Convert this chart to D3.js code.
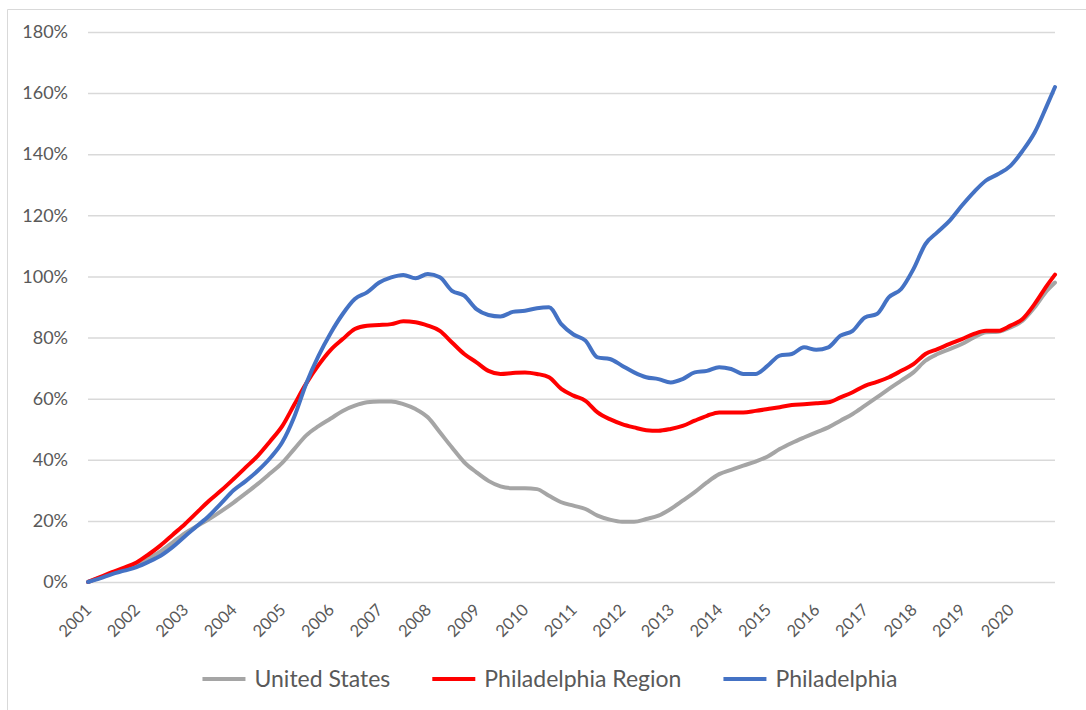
<!DOCTYPE html>
<html>
<head>
<meta charset="utf-8">
<script src="https://cdn.jsdelivr.net/npm/d3@7"></script>
<style>
    body { margin: 0; background: #fff; }
    .viz text { font-family: Lato, "Open Sans", sans-serif; fill: #595959; }
</style>
</head>
<body>
<div class="viz"></div>
<script>
// quarterly readings (cumulative % change since Jan 2001)
var dates = [
    "2001-01","2001-04","2001-07","2001-10","2002-01","2002-04","2002-07","2002-10",
    "2003-01","2003-04","2003-07","2003-10","2004-01","2004-04","2004-07","2004-10",
    "2005-01","2005-04","2005-07","2005-10","2006-01","2006-04","2006-07","2006-10",
    "2007-01","2007-04","2007-07","2007-10","2008-01","2008-04","2008-07","2008-10",
    "2009-01","2009-04","2009-07","2009-10","2010-01","2010-04","2010-07","2010-10",
    "2011-01","2011-04","2011-07","2011-10","2012-01","2012-04","2012-07","2012-10",
    "2013-01","2013-04","2013-07","2013-10","2014-01","2014-04","2014-07","2014-10",
    "2015-01","2015-04","2015-07","2015-10","2016-01","2016-04","2016-07","2016-10",
    "2017-01","2017-04","2017-07","2017-10","2018-01","2018-04","2018-07","2018-10",
    "2019-01","2019-04","2019-07","2019-10","2020-01","2020-04","2020-07","2020-10",
    "2020-12"
];

var unitedStates = [
    0, 1.4, 2.9, 4.2, 5.5, 7.7, 10.0, 13.0,
    16.0, 18.3, 20.6, 23.2, 26.0, 29.0, 32.1, 35.5,
    39.0, 43.5, 48.0, 51.0, 53.5, 56.0, 57.7, 58.8,
    59.1, 59.1, 58.2, 56.6, 53.9, 49.0, 44.0, 39.2,
    35.9, 33.1, 31.3, 30.7, 30.7, 30.4, 28.2, 26.1,
    25.0, 23.9, 21.7, 20.4, 19.7, 19.7, 20.6, 21.7,
    23.9, 26.6, 29.4, 32.6, 35.3, 36.7, 38.1, 39.4,
    41.1, 43.5, 45.5, 47.3, 49.0, 50.6, 52.8, 55.0,
    57.7, 60.4, 63.2, 65.9, 68.6, 72.4, 74.6, 76.2,
    77.9, 80.0, 81.7, 81.9, 83.3, 85.5, 89.9, 95.3,
    98.0
];

var phillyRegion = [
    0, 1.6, 3.2, 4.7, 6.4, 9.0, 12.0, 15.5,
    19.0, 22.8, 26.6, 30.0, 33.7, 37.5, 41.3, 46.0,
    51.0, 58.0, 65.0, 71.0, 76.0, 79.5, 82.8, 83.9,
    84.1, 84.4, 85.3, 85.0, 83.9, 82.2, 78.4, 74.6,
    71.9, 69.1, 68.1, 68.4, 68.6, 68.1, 67.0, 63.2,
    61.0, 59.3, 55.5, 53.3, 51.7, 50.6, 49.7, 49.5,
    50.1, 51.1, 52.8, 54.4, 55.5, 55.5, 55.5, 56.0,
    56.6, 57.2, 57.9, 58.2, 58.5, 58.8, 60.4, 62.1,
    64.2, 65.5, 67.0, 69.1, 71.3, 74.6, 76.2, 77.9,
    79.5, 81.2, 82.2, 82.2, 83.9, 86.1, 91.0, 97.0,
    100.6
];

var philadelphia = [
    0, 1.2, 2.6, 3.7, 4.9, 6.6, 8.6, 11.5,
    15.0, 18.3, 21.7, 25.8, 30.0, 33.0, 36.4, 40.5,
    45.7, 54.0, 65.0, 74.0, 81.5, 87.7, 92.6, 94.8,
    98.0, 99.7, 100.5, 99.4, 100.8, 99.7, 95.3, 93.7,
    89.3, 87.4, 86.9, 88.4, 88.8, 89.6, 89.9, 84.4,
    81.0, 79.0, 73.5, 73.0, 70.8, 68.6, 67.0, 66.4,
    65.3, 66.4, 68.6, 69.1, 70.3, 69.7, 68.1, 68.1,
    70.8, 74.1, 74.6, 76.8, 76.0, 76.8, 80.6, 82.2,
    86.6, 87.7, 93.2, 95.9, 102.4, 110.6, 114.5, 118.3,
    123.2, 127.6, 131.4, 133.5, 136.2, 141.1, 147.1, 155.9,
    162.0
];

var yTicks = [0, 20, 40, 60, 80, 100, 120, 140, 160, 180];

var seriesNames = ["United States", "Philadelphia Region", "Philadelphia"];
var seriesColors = ["#a5a5a5", "#ff0000", "#4472c4"];
var seriesValues = [unitedStates, phillyRegion, philadelphia];

var fullWidth = 1086,
    fullHeight = 710,
    margin = { top: 32, right: 31, bottom: 128, left: 88 },
    width = fullWidth - margin.left - margin.right,
    height = fullHeight - margin.top - margin.bottom;

var parseDate = d3.timeParse("%Y-%m");

var svg = d3.select('.viz').append('svg')
    .attr('width', fullWidth)
    .attr('height', fullHeight);

// chart frame (only left and top edges are inside the crop)
svg.append('path')
    .attr('d', 'M7.5,' + fullHeight + 'V9.5H' + fullWidth)
    .attr('fill', 'none')
    .attr('stroke', '#d9d9d9')
    .attr('stroke-width', 1);

var x = d3.scaleTime()
    .domain([parseDate(dates[0]), parseDate(dates[dates.length - 1])])
    .range([0, width]);

var y = d3.scaleLinear()
    .domain([0, 180])
    .range([height, 0]);

var g = svg.append('g')
    .attr('transform', 'translate(' + margin.left + ',' + margin.top + ')');

// gridlines + y labels
var yAxis = g.append('g')
    .call(d3.axisLeft(y)
        .tickValues(yTicks)
        .tickSize(-width)
        .tickPadding(20)
        .tickFormat(function(d) { return d + '%'; }));

yAxis.select('.domain').remove();
yAxis.selectAll('.tick line')
    .attr('stroke', '#d9d9d9')
    .attr('stroke-width', 1.5);
yAxis.selectAll('.tick text')
    .style('font-size', '18px');

// x labels, one per year, slanted
var xAxis = g.append('g')
    .attr('transform', 'translate(0,' + height + ')')
    .call(d3.axisBottom(x)
        .ticks(d3.timeYear.every(1))
        .tickSize(0)
        .tickFormat(d3.timeFormat('%Y')));

xAxis.select('.domain').remove();
xAxis.selectAll('.tick text')
    .style('font-size', '16.5px')
    .attr('text-anchor', 'end')
    .attr('dy', null)
    .attr('y', 0)
    .attr('transform', 'translate(4,29) rotate(-45)');

var line = d3.line()
    .x(function(d, i) { return x(parseDate(dates[i])); })
    .y(function(d) { return y(d); })
    .curve(d3.curveMonotoneX);

seriesValues.forEach(function(vals, k) {
    g.append('path')
        .datum(vals)
        .attr('fill', 'none')
        .attr('stroke', seriesColors[k])
        .attr('stroke-width', 4)
        .attr('stroke-linejoin', 'round')
        .attr('stroke-linecap', 'round')
        .attr('d', line);
});

// legend, centred under the chart
var legend = svg.append('g')
    .attr('class', 'legend');

var items = legend.selectAll('g')
    .data(seriesNames)
    .enter().append('g');

items.append('line')
    .attr('x1', 0)
    .attr('x2', 43)
    .attr('y1', 0)
    .attr('y2', 0)
    .attr('stroke', function(d, i) { return seriesColors[i]; })
    .attr('stroke-width', 4);

items.append('text')
    .attr('x', 52)
    .attr('dy', '0.35em')
    .style('font-size', '23px')
    .text(function(d) { return d; });

var offset = 0;
items.each(function() {
    var w = this.getBBox().width;
    d3.select(this).attr('transform', 'translate(' + offset + ',0)');
    offset += w + 42;
});
var legendWidth = offset - 42;
legend.attr('transform', 'translate(' + (550 - legendWidth / 2) + ',679)');
</script>
</body>
</html>
